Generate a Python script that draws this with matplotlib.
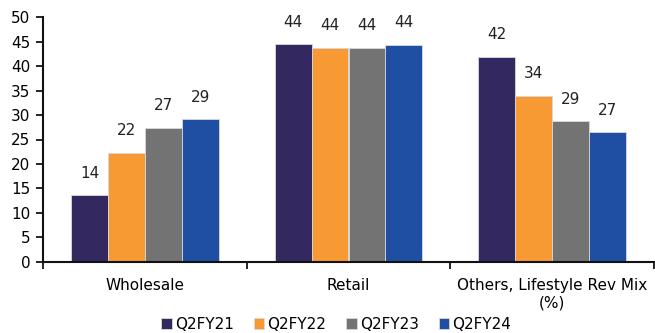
import numpy as np
import matplotlib.pyplot as plt
from matplotlib.ticker import FixedLocator

categories = ['Wholesale', 'Retail', 'Others, Lifestyle Rev Mix\n(%)']
series = ['Q2FY21', 'Q2FY22', 'Q2FY23', 'Q2FY24']
q2fy21 = [13.6, 44.5, 41.9]
q2fy22 = [22.3, 43.7, 33.9]
q2fy23 = [27.4, 43.7, 28.7]
q2fy24 = [29.1, 44.3, 26.5]
labels = [[14, 44, 42], [22, 44, 34], [27, 44, 29], [29, 44, 27]]
colors = ['#332960', '#F79A33', '#737373', '#1F4FA3']

plt.rcParams['font.family'] = ['DejaVu Sans']
plt.rcParams['font.size'] = 11

fig = plt.figure(figsize=(6.55, 3.33), dpi=100)
ax = fig.add_axes([43/655, 1-261.7/333, (654-43)/655, (261.7-17.3)/333])

x = np.arange(len(categories))
w = 0.181
for i, vals in enumerate([q2fy21, q2fy22, q2fy23, q2fy24]):
    pos = x + (i - 1.5) * w
    ax.bar(pos, vals, w, color=colors[i], edgecolor='#d9d9d9', linewidth=0.6, label=series[i])
    for p, v, t in zip(pos, vals, labels[i]):
        ax.text(p, v + 3.0, str(t), ha='center', va='bottom', color='#222222')

ax.set_xlim(-0.5, 2.5)
ax.set_ylim(0, 50)
ax.set_yticks(range(0, 51, 5))
ax.set_xticks(x)
ax.set_xticklabels(categories)
ax.xaxis.set_minor_locator(FixedLocator([-0.5, 0.5, 1.5, 2.5]))
ax.tick_params(axis='x', which='major', length=0, pad=12)
ax.tick_params(axis='x', which='minor', length=5, width=1.2, direction='out')
ax.tick_params(axis='y', length=5, width=1.2, direction='out', pad=4)
for s in ['top', 'right']:
    ax.spines[s].set_visible(False)
for s in ['left', 'bottom']:
    ax.spines[s].set_linewidth(1.5)
    ax.spines[s].set_color('#111111')

ax.legend(loc='upper center', bbox_to_anchor=(0.48, -0.2), ncol=4, frameon=False,
          handlelength=0.7, handleheight=0.7, handletextpad=0.2, columnspacing=1.3,
          borderaxespad=0)

fig.savefig('out.png', dpi=100)
